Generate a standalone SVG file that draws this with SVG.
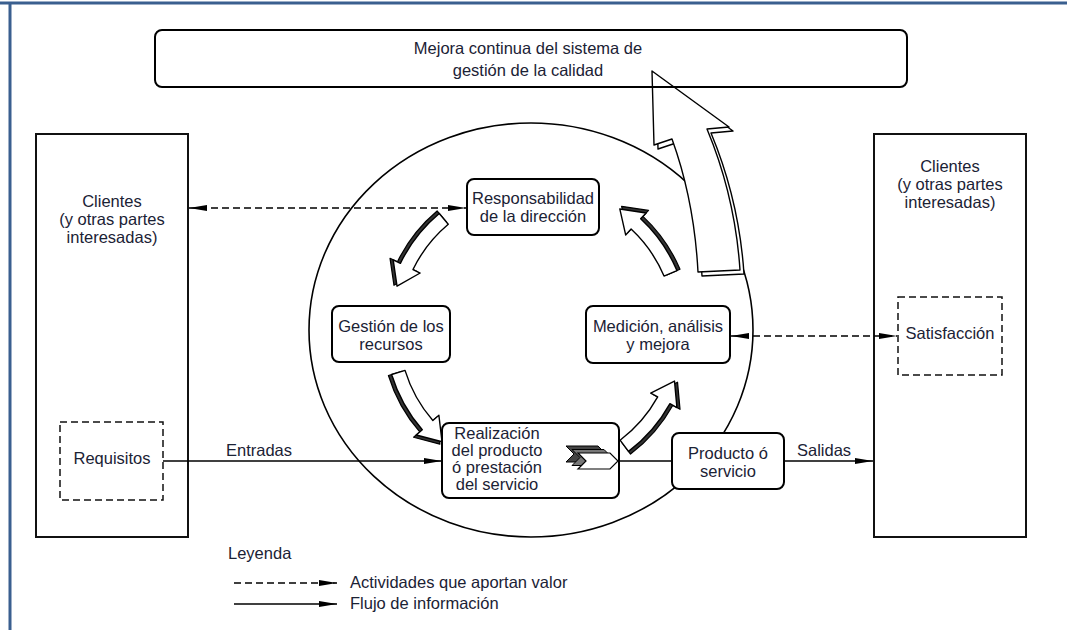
<svg xmlns="http://www.w3.org/2000/svg" xmlns:xlink="http://www.w3.org/1999/xlink" width="1067" height="630" viewBox="0 0 1067 630">
<style>
text{font-family:"Liberation Sans",Arial,sans-serif;font-size:16.5px;fill:#1b2235}
.c{text-anchor:middle}
.box{fill:#fff;stroke:#000;stroke-width:2}
.big{fill:#fff;stroke:#111;stroke-width:2}
.dbox{fill:none;stroke:#111;stroke-width:1.5;stroke-dasharray:7,4}
.ln{fill:none;stroke:#000;stroke-width:1.6}
.dl{fill:none;stroke:#000;stroke-width:1.6;stroke-dasharray:7,4}
.arw{fill:#fff;stroke:#000;stroke-width:1.4;stroke-linejoin:round}
.sh{fill:#333;stroke:#000;stroke-width:1.2;stroke-linejoin:round}
</style>
<defs>
<marker id="ah" viewBox="0 0 18 8" markerWidth="18" markerHeight="8" markerUnits="userSpaceOnUse" refX="18" refY="4" orient="auto-start-reverse">
<path d="M0,1 L18,4 L0,7 Z" fill="#000"/>
</marker>
<path id="ca" d="M145,-22 L160,0 L152,0 A152,152 0 0 1 138.9,61.8 L126.1,56.1 A138,138 0 0 0 138,0 L130,0 Z"/>
<path id="chev" d="M0,0 L32,0 L40,8 L32,16 L0,16 L8,8 Z"/>
<path id="bigarrow" d="M652,71 L729,127 L707,129 C722,165 736,210 740,270 L698,272 C695,215 685,175 672,139 L654,145 Z"/>
</defs>

<!-- frame -->
<g id="frame">
<line x1="0" y1="3" x2="1067" y2="3" stroke="#3a5f8f" stroke-width="3"/>
<line x1="10" y1="2" x2="10" y2="630" stroke="#3a5f8f" stroke-width="3"/>
</g>

<!-- customers left -->
<g id="clientes-izq">
<rect class="big" x="36" y="134" width="152" height="403"/>
<text class="c" x="112" y="207">Clientes</text>
<text class="c" x="112" y="225">(y otras partes</text>
<text class="c" x="112" y="243">interesadas)</text>
</g>
<g id="requisitos">
<rect class="dbox" x="60" y="422" width="103" height="78"/>
<text class="c" x="112" y="464">Requisitos</text>
</g>

<!-- customers right -->
<g id="clientes-der">
<rect class="big" x="874" y="134" width="152" height="403"/>
<text class="c" x="950" y="172">Clientes</text>
<text class="c" x="950" y="190">(y otras partes</text>
<text class="c" x="950" y="208">interesadas)</text>
</g>
<g id="satisfaccion">
<rect class="dbox" x="898" y="297" width="104" height="78"/>
<text class="c" x="950" y="339">Satisfacción</text>
</g>

<!-- process circle -->
<g id="circle">
<ellipse cx="531" cy="330" rx="222" ry="207" fill="none" stroke="#000" stroke-width="1.6"/>
</g>

<!-- cycle arrows -->
<g id="cycle-arrows">
<g transform="translate(537,330) rotate(206)"><use xlink:href="#ca" class="sh" transform="scale(1.022)"/><use xlink:href="#ca" class="arw"/></g>
<g transform="translate(537,330) rotate(313)"><use xlink:href="#ca" class="sh" transform="scale(1.022)"/><use xlink:href="#ca" class="arw"/></g>
<g transform="translate(537,330) rotate(139)"><use xlink:href="#ca" class="sh" transform="scale(1.022)"/><use xlink:href="#ca" class="arw"/></g>
<g transform="translate(537,330) rotate(29)"><use xlink:href="#ca" class="sh" transform="scale(1.022)"/><use xlink:href="#ca" class="arw"/></g>
</g>

<!-- big improvement arrow -->
<g id="improvement-arrow">
<use xlink:href="#bigarrow" class="arw" transform="translate(4,4)"/>
<use xlink:href="#bigarrow" class="arw"/>
</g>

<!-- top box -->
<g id="mejora">
<rect x="155" y="30" width="752" height="57" rx="7" fill="none" stroke="#000" stroke-width="2"/>
<text class="c" x="528" y="54">Mejora continua del sistema de</text>
<text class="c" x="528" y="76">gestión de la calidad</text>
</g>

<!-- connectors -->
<g id="connectors">
<line class="dl" x1="189" y1="208" x2="466" y2="208" marker-start="url(#ah)" marker-end="url(#ah)"/>
<line class="dl" x1="731" y1="336" x2="897" y2="336" marker-start="url(#ah)" marker-end="url(#ah)"/>
<line class="ln" x1="163" y1="461" x2="442" y2="461" marker-end="url(#ah)"/>
<line class="ln" x1="615" y1="461" x2="672" y2="461"/>
<line class="ln" x1="784" y1="461" x2="873" y2="461" marker-end="url(#ah)"/>
<text x="226" y="456">Entradas</text>
<text x="797" y="456">Salidas</text>
</g>

<!-- process boxes -->
<g id="responsabilidad">
<rect class="box" x="467" y="179" width="132" height="56" rx="7"/>
<text class="c" x="533" y="204">Responsabilidad</text>
<text class="c" x="533" y="222">de la dirección</text>
</g>
<g id="gestion">
<rect class="box" x="332" y="306" width="118" height="56" rx="7"/>
<text class="c" x="391" y="332">Gestión de los</text>
<text class="c" x="391" y="350">recursos</text>
</g>
<g id="medicion">
<rect class="box" x="586" y="306" width="144" height="57" rx="7"/>
<text class="c" x="658" y="332">Medición, análisis</text>
<text class="c" x="658" y="350">y mejora</text>
</g>
<g id="realizacion">
<rect class="box" x="442" y="423" width="177" height="75" rx="7"/>
<text class="c" x="497" y="439">Realización</text>
<text class="c" x="497" y="456">del producto</text>
<text class="c" x="497" y="473">ó prestación</text>
<text class="c" x="497" y="490">del servicio</text>
<use xlink:href="#chev" transform="translate(566,446)" fill="#444" stroke="#000" stroke-width="1"/>
<use xlink:href="#chev" transform="translate(572,449.5)" fill="#777" stroke="#000" stroke-width="1"/>
<use xlink:href="#chev" transform="translate(578,453)" fill="#fff" stroke="#000" stroke-width="1.2"/>
</g>
<g id="producto">
<rect class="box" x="672" y="433" width="112" height="56" rx="7"/>
<text class="c" x="728" y="459">Producto ó</text>
<text class="c" x="728" y="477">servicio</text>
</g>

<!-- legend -->
<g id="leyenda">
<text x="228" y="559">Leyenda</text>
<line class="dl" x1="234" y1="583" x2="337" y2="583" marker-end="url(#ah)"/>
<line class="ln" x1="234" y1="604" x2="337" y2="604" marker-end="url(#ah)"/>
<text x="350" y="588">Actividades que aportan valor</text>
<text x="350" y="609">Flujo de información</text>
</g>
</svg>
